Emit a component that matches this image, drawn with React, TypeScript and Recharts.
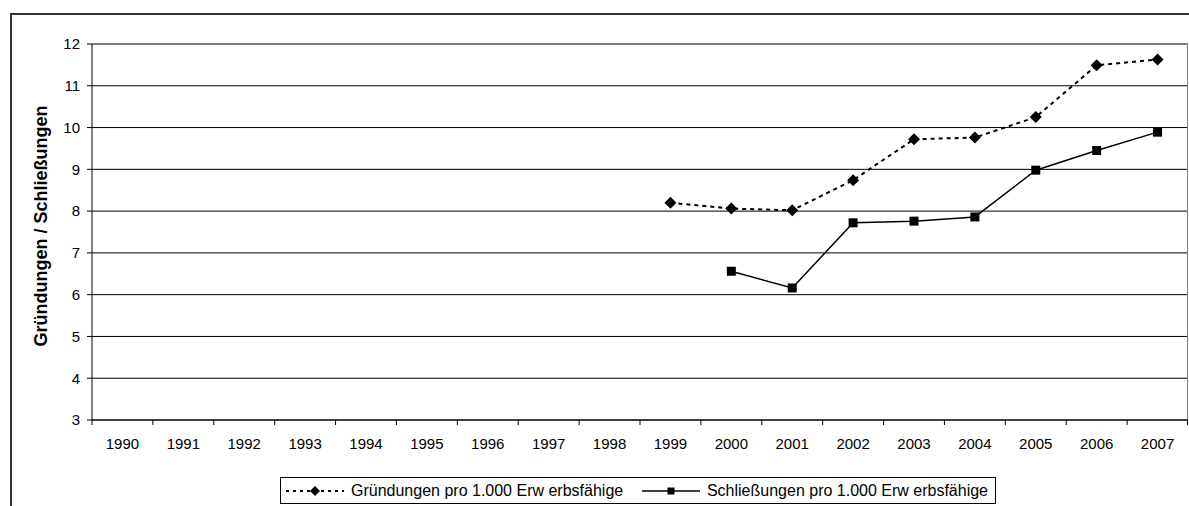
import { LineChart, Line, XAxis, YAxis, CartesianGrid, Legend } from "recharts";

// values (per 1.000 Erwerbsfähige)
const years = [
  "1990", "1991", "1992", "1993", "1994", "1995", "1996", "1997", "1998",
  "1999", "2000", "2001", "2002", "2003", "2004", "2005", "2006", "2007",
];
const gruendungen = [
  null, null, null, null, null, null, null, null, null,
  8.2, 8.06, 8.02, 8.74, 9.72, 9.76, 10.25, 11.49, 11.63,
];
const schliessungen = [
  null, null, null, null, null, null, null, null, null,
  null, 6.56, 6.16, 7.72, 7.76, 7.86, 8.98, 9.45, 9.89,
];
const yTicks = [3, 4, 5, 6, 7, 8, 9, 10, 11, 12];

const W = 1189;
const H = 506;
const PLOT_LEFT = 92;
const PLOT_RIGHT = 1188;
const PLOT_TOP = 44;
const PLOT_BOTTOM = 420;
const X_AXIS_H = 30;
const BAND = (PLOT_RIGHT - PLOT_LEFT) / years.length;
const FONT = '"Liberation Sans", Arial, sans-serif';

const data = years.map((year, i) => ({
  year,
  gruendungen: gruendungen[i],
  schliessungen: schliessungen[i],
}));

function Diamond(props: any) {
  const { cx, cy, value } = props;
  if (cx == null || cy == null || value == null) return <g key={props.key} />;
  const r = 6;
  return (
    <polygon
      key={props.key}
      points={`${cx},${cy - r} ${cx + r},${cy} ${cx},${cy + r} ${cx - r},${cy}`}
      fill="#000"
    />
  );
}

function Square(props: any) {
  const { cx, cy, value } = props;
  if (cx == null || cy == null || value == null) return <g key={props.key} />;
  const s = 9;
  return <rect key={props.key} x={cx - s / 2} y={cy - s / 2} width={s} height={s} fill="#000" />;
}

// ticks sit between the categories, labels in the middle
function YearTick(props: any) {
  const { x, y, payload, index } = props;
  const axisY = y - 5;
  const left = x - BAND / 2;
  return (
    <g>
      <line x1={left} x2={left} y1={axisY} y2={axisY + 5} stroke="#000" />
      {index === years.length - 1 && (
        <line x1={x + BAND / 2 - 0.5} x2={x + BAND / 2 - 0.5} y1={axisY} y2={axisY + 5} stroke="#000" />
      )}
      <text x={x} y={axisY + 29} textAnchor="middle" fontSize={15} fill="#000" fontFamily={FONT}>
        {payload.value}
      </text>
    </g>
  );
}

function LegendIcon({ kind }: { kind: string }) {
  if (kind === "gruendungen") {
    return (
      <svg width={58} height={14} style={{ display: "block" }}>
        <line x1={0} x2={58} y1={7} y2={7} stroke="#000" strokeWidth={2} strokeDasharray="3 4" />
        <polygon points="29,2 34,7 29,12 24,7" fill="#000" />
      </svg>
    );
  }
  return (
    <svg width={58} height={14} style={{ display: "block" }}>
      <line x1={0} x2={58} y1={7} y2={7} stroke="#000" strokeWidth={1.5} />
      <rect x={25.5} y={3.5} width={7} height={7} fill="#000" />
    </svg>
  );
}

function LegendBox(props: any) {
  const items = props.payload || [];
  return (
    <div
      style={{
        border: "1px solid #000",
        height: 27,
        boxSizing: "border-box",
        display: "flex",
        alignItems: "center",
        justifyContent: "space-between",
        fontFamily: FONT,
        fontSize: 16,
        color: "#000",
        background: "#fff",
        paddingLeft: 5,
        paddingRight: 7,
      }}
    >
      {items.map((it: any) => (
        <div key={it.dataKey} style={{ display: "flex", alignItems: "center" }}>
          <LegendIcon kind={it.dataKey} />
          <span style={{ marginLeft: 7, whiteSpace: "nowrap" }}>{it.value}</span>
        </div>
      ))}
    </div>
  );
}

function AxisTitle(props: any) {
  const vb = props.viewBox || {};
  const cy = (vb.y ?? PLOT_TOP) + (vb.height ?? PLOT_BOTTOM - PLOT_TOP) / 2 - 6;
  const x = 47;
  return (
    <text
      x={x}
      y={cy}
      transform={`rotate(-90 ${x} ${cy})`}
      textAnchor="middle"
      fontSize={18}
      fontWeight="bold"
      fontFamily={FONT}
      fill="#000"
    >
      Gründungen / Schließungen
    </text>
  );
}

export default function App() {
  return (
    <div style={{ position: "fixed", left: 0, top: 0, width: W, height: H, background: "#fff", overflow: "hidden" }}>
      {/* outer chart frame, runs past the picture's right and bottom edge */}
      <div
        style={{
          position: "absolute",
          left: 10,
          top: 13,
          width: 1300,
          height: 600,
          borderTop: "2px solid #333",
          borderLeft: "2px solid #333",
        }}
      />
      <div style={{ position: "absolute", left: 0, top: 0 }}>
        <LineChart
          width={W}
          height={H}
          data={data}
          margin={{ top: PLOT_TOP, right: W - PLOT_RIGHT, left: 0, bottom: H - PLOT_BOTTOM - X_AXIS_H }}
        >
          <CartesianGrid vertical={false} stroke="#000" />
          <CartesianGrid horizontalPoints={[PLOT_TOP]} verticalPoints={[PLOT_RIGHT - 0.5]} stroke="#808080" />
          <XAxis
            dataKey="year"
            interval={0}
            height={X_AXIS_H}
            padding={{ left: BAND / 2, right: BAND / 2 }}
            tickLine={false}
            tickSize={5}
            tickMargin={0}
            axisLine={{ stroke: "#000" }}
            tick={YearTick}
          />
          <YAxis
            type="number"
            domain={[3, 12]}
            ticks={yTicks}
            interval={0}
            width={PLOT_LEFT}
            tickSize={5}
            tickMargin={7}
            axisLine={{ stroke: "#000" }}
            tickLine={{ stroke: "#000" }}
            tick={{ fill: "#000", fontSize: 15, fontFamily: FONT }}
            label={{ content: AxisTitle }}
          />
          <Legend
            layout="horizontal"
            verticalAlign="middle"
            align="center"
            wrapperStyle={{ left: 280, top: 477, width: 716 }}
            content={LegendBox}
          />
          <Line
            dataKey="gruendungen"
            name="Gründungen pro 1.000 Erw erbsfähige"
            type="linear"
            stroke="#000"
            strokeWidth={2}
            strokeDasharray="4 4"
            dot={Diamond}
            activeDot={false}
            isAnimationActive={false}
          />
          <Line
            dataKey="schliessungen"
            name="Schließungen pro 1.000 Erw erbsfähige"
            type="linear"
            stroke="#000"
            strokeWidth={1.5}
            dot={Square}
            activeDot={false}
            isAnimationActive={false}
          />
        </LineChart>
      </div>
    </div>
  );
}
